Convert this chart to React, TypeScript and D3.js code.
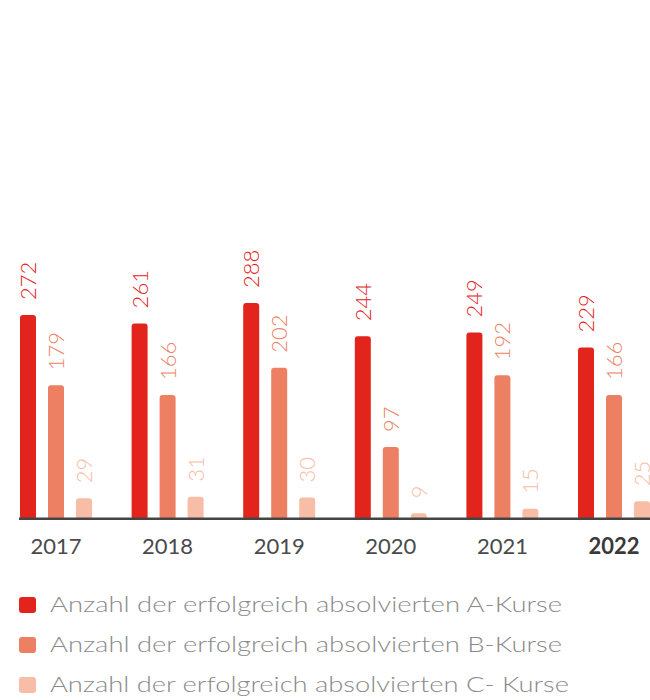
import { useEffect, useRef } from 'react';
import * as d3 from 'd3';

const years = ['2017', '2018', '2019', '2020', '2021', '2022'];
const seriesKeys = ['A', 'B', 'C'];
const aKurse = [272, 261, 288, 244, 249, 229];
const bKurse = [179, 166, 202, 97, 192, 166];
const cKurse = [29, 31, 30, 9, 15, 25];
const colors = ['#e3241d', '#ed7f62', '#f7bda7'];
const legendLabels = [
  'Anzahl der erfolgreich absolvierten A-Kurse',
  'Anzahl der erfolgreich absolvierten B-Kurse',
  'Anzahl der erfolgreich absolvierten C- Kurse',
];

const FONT = 'Lato, "Open Sans", sans-serif';
// the original face is wider than Lato, so legend lines get stretched to these widths
const legendWidths = [512, 512, 519];

const App = () => {
  const svgRef = useRef<SVGSVGElement>(null);

  useEffect(() => {
    const width = 650;
    const height = 700;
    const baseline = 520;

    const svg = d3.select(svgRef.current);
    svg.selectAll('*').remove();
    svg.attr('width', width).attr('height', height);

    const values = [aKurse, bKurse, cKurse];

    const x0 = d3.scaleBand().domain(years).range([20, 650]).paddingInner(0.355).paddingOuter(0);
    const x1 = d3.scaleBand().domain(seriesKeys).range([0, x0.bandwidth()]).paddingInner(0.4286).paddingOuter(0);
    const y = d3.scaleLinear().domain([0, 300]).range([baseline, baseline - 226]);

    const groups = svg
      .selectAll('g.year')
      .data(years)
      .enter()
      .append('g')
      .attr('class', 'year')
      .attr('transform', d => `translate(${x0(d)},0)`);

    seriesKeys.forEach((key, si) => {
      groups
        .append('rect')
        .attr('x', x1(key)!)
        .attr('y', (_, i) => y(values[si][i]))
        .attr('width', x1.bandwidth())
        .attr('height', (_, i) => baseline - y(values[si][i]))
        .attr('rx', 3)
        .attr('fill', colors[si]);

      // rotated value labels
      groups
        .append('text')
        .attr('transform', (_, i) => {
          const cx = x1(key)! + x1.bandwidth() / 2;
          return `translate(${cx},${y(values[si][i]) - 15}) rotate(-90)`;
        })
        .attr('dy', '0.36em')
        .attr('text-anchor', 'start')
        .style('font-family', FONT)
        .style('font-weight', 300)
        .style('font-size', '22px')
        .attr('fill', colors[si])
        .text((_, i) => values[si][i]);
    });

    // axis line
    svg
      .append('line')
      .attr('x1', 19)
      .attr('x2', 650)
      .attr('y1', 518.7)
      .attr('y2', 518.7)
      .attr('stroke', '#444')
      .attr('stroke-width', 2.5);

    // year labels
    svg
      .selectAll('text.yearLabel')
      .data(years)
      .enter()
      .append('text')
      .attr('class', 'yearLabel')
      .attr('x', d => x0(d)! + x0.bandwidth() / 2)
      .attr('y', 554)
      .attr('text-anchor', 'middle')
      .style('font-family', FONT)
      .style('font-size', '22px')
      .style('font-weight', (_, i) => (i === years.length - 1 ? 700 : 400))
      .attr('fill', (_, i) => (i === years.length - 1 ? '#3a3a3a' : '#4a4a4a'))
      .text(d => d);

    // legend
    const legend = svg
      .selectAll('g.legend')
      .data(legendLabels)
      .enter()
      .append('g')
      .attr('class', 'legend')
      .attr('transform', (_, i) => `translate(19,${597 + i * 40})`);

    legend
      .append('rect')
      .attr('width', 17)
      .attr('height', 16)
      .attr('rx', 3)
      .attr('fill', (_, i) => colors[i]);

    legend
      .append('text')
      .attr('x', 31)
      .attr('y', 15)
      .attr('textLength', (_, i) => legendWidths[i])
      .attr('lengthAdjust', 'spacingAndGlyphs')
      .style('font-family', FONT)
      .style('font-weight', 300)
      .style('font-size', '21px')
      .attr('fill', '#8a8a8a')
      .text(d => d);
  }, []);

  return (
    <div style={{ position: 'absolute', left: 0, top: 0 }}>
      <svg ref={svgRef} style={{ display: 'block' }} />
    </div>
  );
};

export default App;
